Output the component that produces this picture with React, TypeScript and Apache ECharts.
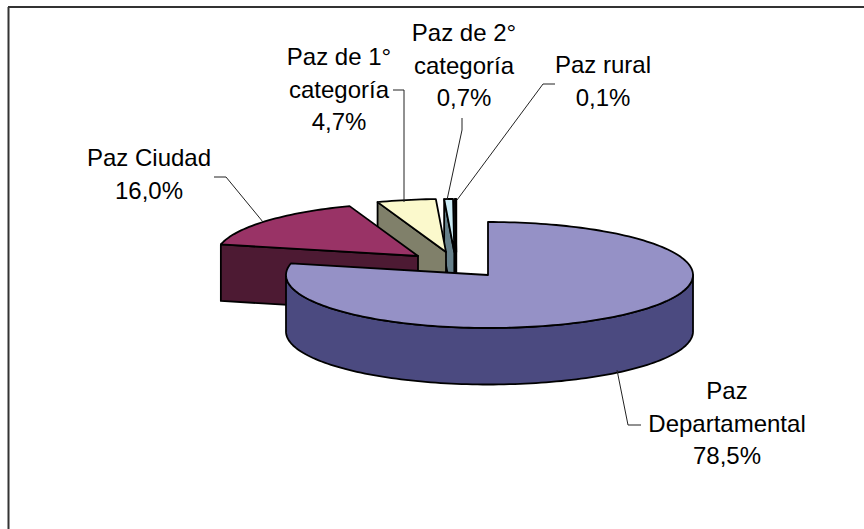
import React, { useEffect, useRef } from "react";
import * as echarts from "echarts";

const categories = ["Paz\nDepartamental", "Paz Ciudad", "Paz de 1°\ncategoría", "Paz de 2°\ncategoría", "Paz rural"];
const shares = [78.5, 16.0, 4.7, 0.7, 0.1];

const FONT = '"Liberation Sans", Arial, sans-serif';
const topColors = ["#9591C6", "#993366", "#FBF9CC", "#CCECF6", "#CCECF6"];
const sideColors = ["#4B4A80", "#4D1A33", "#80806A", "#66808A", "#66808A"];
const apexes: [number, number][] = [[488, 275], [418, 256], [446, 252], [454.3, 252], [456.3, 252]];
const labelCenters: [number, number][] = [[727, 423], [149, 174], [339, 89], [464, 65], [603, 81]];
const leaders: [number, number][][] = [
  [[617, 370], [628, 425], [641, 425]],
  [[214, 177], [226, 177], [263, 222]],
  [[393, 90], [404, 90], [404, 202]],
  [[462, 118], [462, 130], [447, 200]],
  [[555, 84], [543, 84], [457, 200]],
];
const RX_LEFT = 202;
const RX_RIGHT = 205;
const RY = 53;
const DEPTH = 56.5;

const total = shares.reduce((a, b) => a + b, 0);
const startDeg = shares.map((_, i) => (shares.slice(0, i).reduce((a, b) => a + b, 0) / total) * 360);
const endDeg = shares.map((_, i) => (shares.slice(0, i + 1).reduce((a, b) => a + b, 0) / total) * 360);

function rimPoint(i: number, deg: number, dy = 0): [number, number] {
  const t = (deg * Math.PI) / 180;
  const s = Math.sin(t);
  const [ax, ay] = apexes[i];
  return [ax + s * (s > 0 ? RX_RIGHT : RX_LEFT), ay - Math.cos(t) * RY + dy];
}

function arc(i: number, a: number, b: number, dy = 0): [number, number][] {
  const n = Math.max(2, Math.ceil((b - a) / 1.5));
  const out: [number, number][] = [];
  for (let k = 0; k <= n; k++) out.push(rimPoint(i, a + ((b - a) * k) / n, dy));
  return out;
}

const edge = { stroke: "#000", lineWidth: 1.8, lineJoin: "round" as const };

function renderSlice(params: any) {
  const i = shares.length - 1 - params.dataIndex;
  const a = startDeg[i];
  const b = endDeg[i];
  const [ax, ay] = apexes[i];
  const children: any[] = [];
  const side = { ...edge, fill: sideColors[i] };
  const p0 = rimPoint(i, a);
  if (a > 180) {
    children.push({
      type: "polygon",
      shape: { points: [[ax, ay], p0, [p0[0], p0[1] + DEPTH], [ax, ay + DEPTH]] },
      style: side,
    });
  }
  const fa = Math.max(a, 90);
  const fb = Math.min(b, 270);
  if (fb > fa) {
    children.push({
      type: "polygon",
      shape: { points: [...arc(i, fa, fb), ...arc(i, fa, fb, DEPTH).reverse()] },
      style: side,
    });
  }
  children.push({
    type: "polygon",
    shape: { points: [[ax, ay], ...arc(i, a, b)] },
    style: { ...edge, fill: topColors[i] },
  });
  return { type: "group", children };
}

const percentText = (v: number) => v.toFixed(1).replace(".", ",") + "%";

export default function App() {
  const ref = useRef<HTMLDivElement>(null);
  useEffect(() => {
    document.body.style.margin = "0";
    const chart = echarts.init(ref.current!, undefined, { renderer: "svg" });
    chart.setOption({
      animation: false,
      backgroundColor: "#fff",
      series: [
        {
          type: "custom",
          coordinateSystem: "none",
          silent: true,
          clip: false,
          data: [...shares].reverse(),
          renderItem: renderSlice,
        },
      ],
      graphic: [
        { type: "line", shape: { x1: 8.5, y1: 7, x2: 8.5, y2: 529 }, style: { stroke: "#333", lineWidth: 2 }, silent: true },
        { type: "line", shape: { x1: 8, y1: 7, x2: 864, y2: 7 }, style: { stroke: "#333", lineWidth: 2 }, silent: true },
        ...leaders.map((pts) => ({
          type: "polyline",
          shape: { points: pts },
          style: { stroke: "#222", lineWidth: 1, fill: "none" },
          silent: true,
          z: 10,
        })),
        ...categories.map((name, i) => ({
          type: "text",
          x: labelCenters[i][0],
          y: labelCenters[i][1],
          silent: true,
          z: 11,
          style: {
            text: name + "\n" + percentText(shares[i]),
            font: `24px ${FONT}`,
            fill: "#000",
            align: "center",
            verticalAlign: "middle",
            lineHeight: 32.5,
          },
        })),
      ],
    });
    return () => chart.dispose();
  }, []);
  return <div ref={ref} style={{ position: "absolute", left: 0, top: 0, width: 864, height: 529 }} />;
}
